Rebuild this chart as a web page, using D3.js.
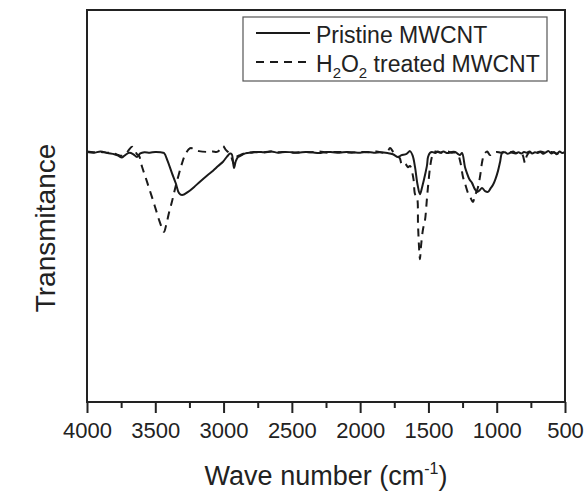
<!DOCTYPE html>
<html>
<head>
<meta charset="utf-8">
<script src="https://cdn.jsdelivr.net/npm/d3@7/dist/d3.min.js"></script>
<style>
  html, body { margin: 0; padding: 0; background: #fff; }
  svg { display: block; font-family: "Liberation Sans", Arial, sans-serif; }
</style>
</head>
<body>
<div id="chart"></div>
<script>
// FTIR spectra, wave number (cm-1) vs transmittance (arbitrary units)
var majorTicks = [4000, 3500, 3000, 2500, 2000, 1500, 1000, 500];
var minorTicks = [3750, 3250, 2750, 2250, 1750, 1250, 750];

var pristineWave = [4000,3950,3900,3850,3800,3770,3744,3720,3690,3660,3634,3610,3580,3540,3500,3460,3436,3410,3378,3350,3326,3304,3260,3217,3173,3120,3077,3040,3004,2975,2953,2940,2924,2910,2894,2870,2850,2828,
  2800,2750,2700,2650,2600,2550,2500,2450,2400,2350,2300,2250,2200,2150,2100,2050,2000,1950,1900,1850,1800,1760,1723,1700,1660,1635,1615,1598,1580,1562,1545,1525,1510,1503,1488,1474,1450,1430,1415,1390,1360,1330,1305,1285,1269,1254,1232,1218,1200,1181,1160,1144,1125,1108,1085,1064,1045,1027,1010,991,975,961,940,920,900,880,860,840,820,800,780,760,740,720,700,680,660,640,620,600,580,560,540,520,500];
var pristineT = [63.8,63.6,63.9,63.5,63.2,62.8,62.4,63.0,63.6,63.2,62.5,63.4,63.7,63.6,63.8,63.7,63.5,61.5,58.4,55.8,53.3,52.8,53.6,54.8,56.2,57.8,59.0,60.2,61.3,62.6,63.4,63.2,59.7,61.5,62.5,62.9,63.3,63.5,
  63.6,63.8,63.7,63.9,63.6,63.8,63.7,63.6,63.8,63.7,63.5,63.8,63.7,63.6,63.8,63.7,63.6,63.8,63.6,63.7,63.5,63.2,62.5,62.9,63.3,64.0,62.8,59.9,55.5,53.0,55.0,57.9,60.5,62.5,63.6,63.8,63.5,63.9,63.6,63.9,63.5,63.8,63.8,63.3,63.0,63.5,59.9,58.4,56.8,55.9,54.3,53.6,54.0,54.6,53.8,53.6,54.5,55.4,56.8,58.9,61.3,63.5,63.7,63.3,63.6,63.9,63.5,63.7,63.4,63.8,63.6,63.9,63.4,63.7,63.5,63.8,63.3,63.7,64.0,63.4,63.8,63.2,63.9,63.5,63.8];

var treatedWave = [4000,3950,3900,3850,3800,3770,3744,3720,3700,3670,3650,3634,3619,3597,3570,3546,3520,3495,3470,3451,3436,3420,3400,3380,3363,3340,3312,3290,3275,3255,3238,3210,3180,3120,3080,3048,3020,3004,2985,2968,2945,2924,2905,2880,2850,2820,
  2780,2720,2660,2600,2540,2480,2420,2360,2300,2240,2180,2120,2060,2000,1940,1880,1830,1800,1781,1760,1730,1710,1693,1670,1650,1635,1610,1598,1584,1576,1568,1562,1555,1540,1525,1510,1500,1488,1475,1466,1450,1420,1390,1360,1330,1300,1280,1265,1247,1230,1210,1190,1174,1160,1137,1120,1108,1095,1086,1070,1049,1030,1000,970,940,900,860,830,810,793,780,760,720,680,640,600,560,520,500];
var treatedT = [63.9,63.7,63.8,63.6,63.4,63.0,62.8,63.3,64.0,65.1,64.2,63.2,62.8,60.0,57.2,54.6,51.8,49.0,46.2,44.4,43.4,45.2,48.2,50.8,53.3,56.5,60.0,62.4,63.5,64.5,64.8,64.3,64.0,63.8,63.9,63.8,64.6,65.3,64.4,63.8,62.6,60.8,62.5,63.0,63.4,63.6,
  63.8,63.6,63.9,63.7,63.8,63.6,63.8,63.7,63.9,63.6,63.8,63.7,63.6,63.8,63.7,63.9,63.6,63.9,64.8,63.9,62.8,62.2,60.5,60.8,59.9,60.2,57.0,53.0,52.3,45.0,39.0,36.4,39.5,44.0,46.4,52.3,56.0,59.9,62.5,63.5,63.9,63.7,63.5,63.9,63.6,63.6,62.8,61.0,57.4,55.5,53.3,52.0,51.0,52.5,54.8,58.0,61.0,63.0,63.5,63.9,63.0,63.5,63.8,63.6,63.9,63.7,63.4,63.7,63.0,61.0,62.8,63.7,63.5,63.9,63.6,63.8,63.4,63.7,63.8];

var seriesNames = ["Pristine MWCNT", "H2O2 treated MWCNT"];

var W = 584, H = 495;
var plot = { left: 87, right: 565, top: 10, bottom: 402 };

var svg = d3.select('#chart').append('svg').attr('width', W).attr('height', H);

var x = d3.scaleLinear().domain([4000, 500]).range([plot.left, plot.right]);
var y = d3.scaleLinear().domain([0, 100]).range([plot.bottom, plot.top]);

var line = d3.line()
  .x(function(d){ return x(d[0]); })
  .y(function(d){ return y(d[1]); })
  .curve(d3.curveCatmullRom.alpha(0.5));

var pristine = pristineWave.map(function(w, i){ return [w, pristineT[i]]; });
var treated  = treatedWave.map(function(w, i){ return [w, treatedT[i]]; });

svg.append('path').datum(treated).attr('d', line)
  .attr('fill', 'none').attr('stroke', '#1a1a1a').attr('stroke-width', 2)
  .attr('stroke-dasharray', '8,6');
svg.append('path').datum(pristine).attr('d', line)
  .attr('fill', 'none').attr('stroke', '#1a1a1a').attr('stroke-width', 2);

// frame
svg.append('rect')
  .attr('x', plot.left).attr('y', plot.top)
  .attr('width', plot.right - plot.left).attr('height', plot.bottom - plot.top)
  .attr('fill', 'none').attr('stroke', '#222').attr('stroke-width', 2);

// bottom axis: major + minor ticks
var gx = svg.append('g').attr('transform', 'translate(0,' + plot.bottom + ')');
gx.call(d3.axisBottom(x).tickValues(majorTicks).tickSize(11).tickPadding(8).tickFormat(d3.format('d')));
var gm = svg.append('g').attr('transform', 'translate(0,' + plot.bottom + ')');
gm.call(d3.axisBottom(x).tickValues(minorTicks).tickSize(6).tickFormat(''));
[gx, gm].forEach(function(g){
  g.select('.domain').remove();
  g.selectAll('.tick line').attr('stroke', '#222').attr('stroke-width', 2);
});
gx.selectAll('.tick text')
  .attr('fill', '#222').attr('font-size', '22px').attr('font-family', '"Liberation Sans", Arial, sans-serif')
  .attr('dy', null).attr('y', 36);

// axis titles
var xt = svg.append('text').attr('x', (plot.left + plot.right) / 2).attr('y', 485)
  .attr('text-anchor', 'middle').attr('font-size', '27px').attr('fill', '#222');
xt.append('tspan').text('Wave number (cm');
xt.append('tspan').attr('font-size', '16px').attr('dy', -11).text('-1');
xt.append('tspan').attr('dy', 11).text(')');

svg.append('text').attr('transform', 'translate(55,228) rotate(-90)')
  .attr('text-anchor', 'middle').attr('font-size', '28px').attr('fill', '#222')
  .text('Transmitance');

// legend
var lg = svg.append('g');
lg.append('rect').attr('x', 243).attr('y', 17).attr('width', 304).attr('height', 64)
  .attr('fill', '#fff').attr('stroke', '#555').attr('stroke-width', 1.2);
lg.append('line').attr('x1', 256).attr('x2', 310).attr('y1', 33).attr('y2', 33)
  .attr('stroke', '#1a1a1a').attr('stroke-width', 2);
lg.append('line').attr('x1', 256).attr('x2', 310).attr('y1', 62).attr('y2', 62)
  .attr('stroke', '#1a1a1a').attr('stroke-width', 2).attr('stroke-dasharray', '8,6');
lg.append('text').attr('x', 316).attr('y', 43).attr('font-size', '23px').attr('fill', '#222')
  .text(seriesNames[0]);
var t2 = lg.append('text').attr('x', 316).attr('y', 72).attr('font-size', '23px').attr('fill', '#222');
t2.append('tspan').text('H');
t2.append('tspan').attr('font-size', '15px').attr('dy', 6).text('2');
t2.append('tspan').attr('dy', -6).text('O');
t2.append('tspan').attr('font-size', '15px').attr('dy', 6).text('2');
t2.append('tspan').attr('dy', -6).text(' treated MWCNT');
</script>
</body>
</html>
